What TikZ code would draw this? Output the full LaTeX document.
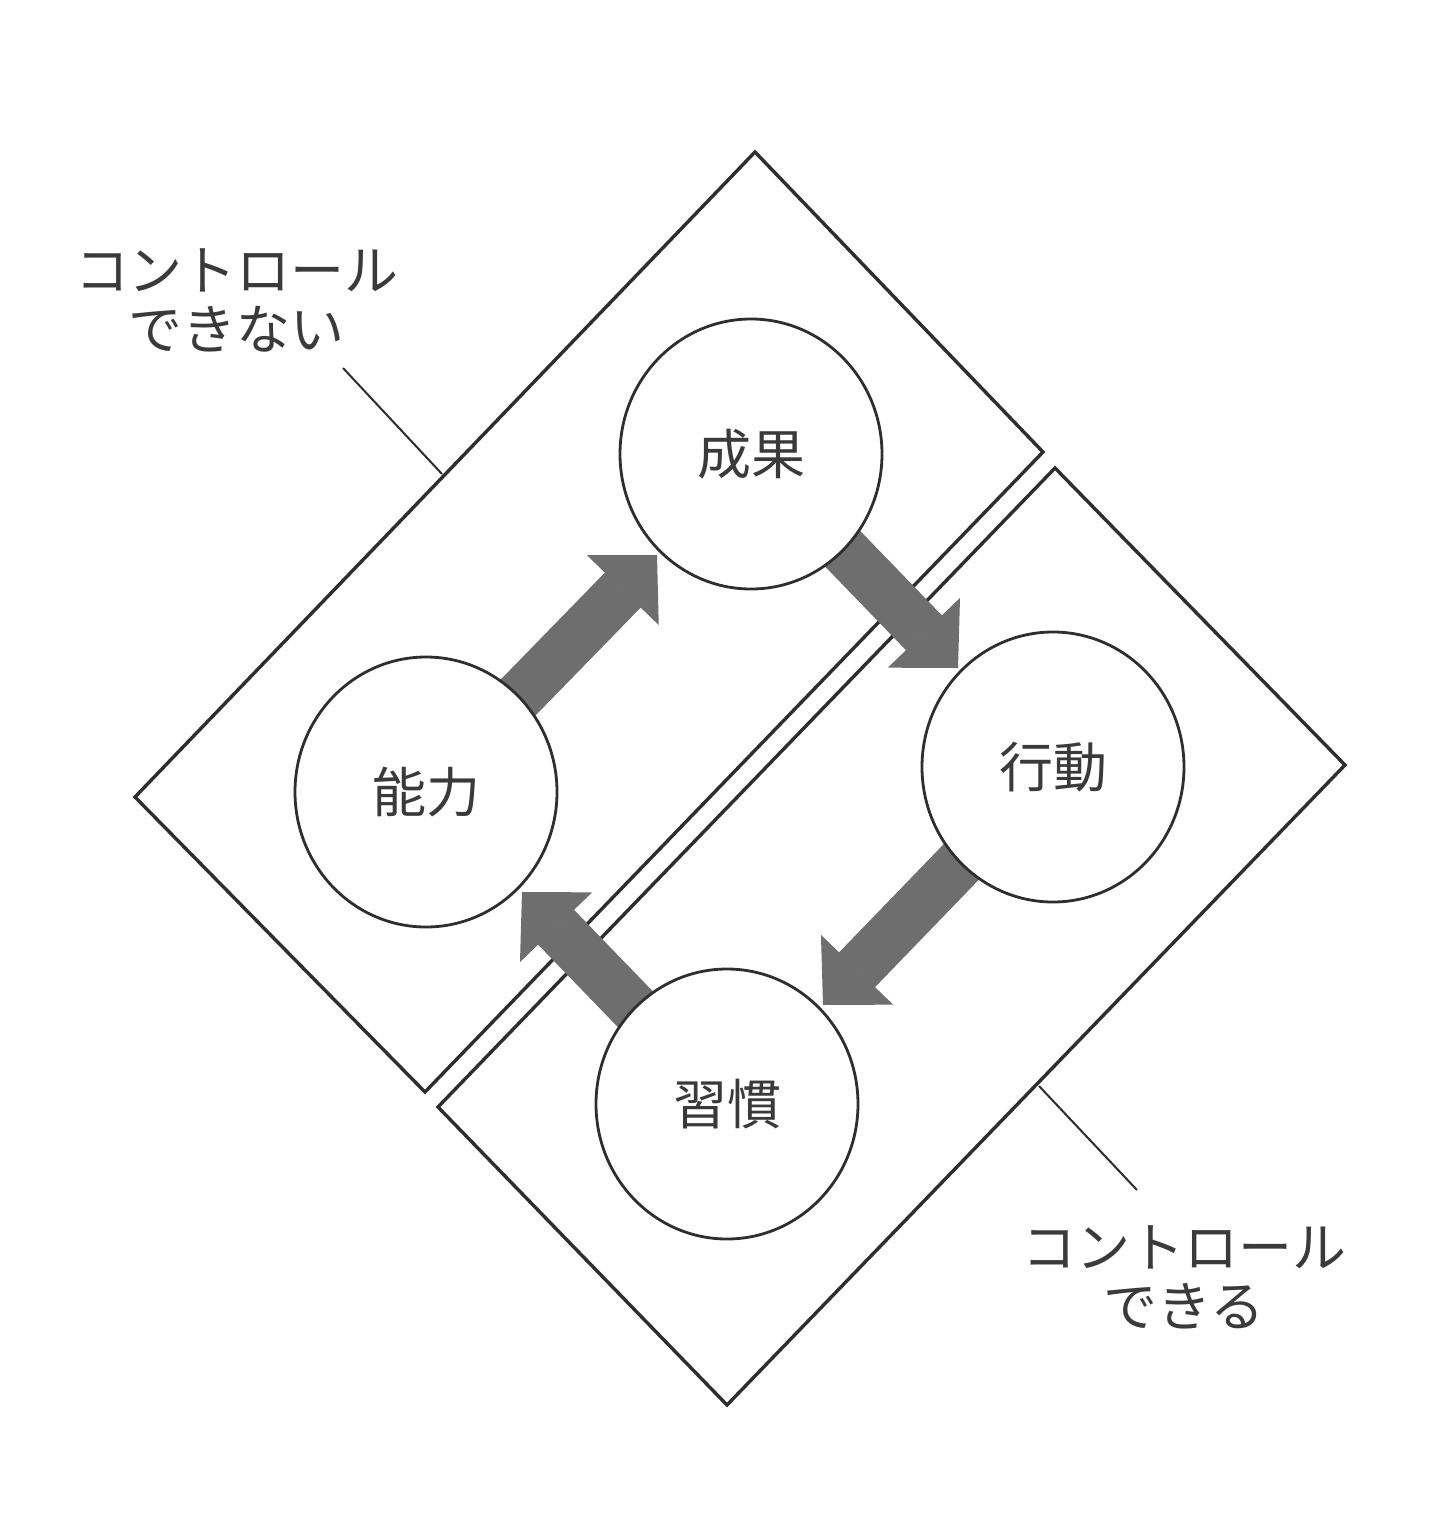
\documentclass[tikz,border=0pt]{standalone}
\usepackage{fontspec}
\newfontfamily\jp{Noto Sans CJK JP}
\usetikzlibrary{shapes.geometric,arrows.meta}
\definecolor{ink}{HTML}{2E2E2E}
\definecolor{arrowgray}{HTML}{6E6E6E}
\definecolor{txt}{HTML}{3A3A3A}
\pgfdeclarelayer{bg}
\pgfdeclarelayer{mid}
\pgfsetlayers{bg,mid,main}
\begin{document}
\begin{tikzpicture}[x=0.5pt,y=-0.5pt,
  zone/.style={draw=ink,line width=1.7pt,line join=miter},
  ring/.style={ellipse,draw=ink,line width=1.4pt,fill=white,minimum width=131pt,minimum height=135pt,inner sep=0pt,text=txt,font=\jp\fontsize{27}{30}\selectfont},
  flow/.style={draw=arrowgray,line width=25pt,-{Triangle[length=24.5pt,width=50pt,line width=1pt]}},
  leader/.style={draw=ink,line width=1pt},
  caption/.style={text=txt,font=\jp\fontsize{27}{29.5}\selectfont,align=center,inner sep=0pt}]
\useasboundingbox (0,0) rectangle (1440,1516);
\begin{pgfonlayer}{bg}
  \fill[white] (0,0) rectangle (1440,1516);
  \draw[zone] (755,152) -- (1043,452) -- (425,1092) -- (135,797) -- cycle;
  \draw[zone] (1055,468) -- (1345,765) -- (727,1405) -- (438,1107) -- cycle;
\end{pgfonlayer}

\node[ring] (seika) at (751,454) {成果};
\node[ring] (nouryoku) at (426,792) {能力};
\node[ring] (koudou) at (1053,767) {行動};
\node[ring] (shuukan) at (727,1104) {習慣};

\coordinate (t1) at (657,555);
\coordinate (t2) at (958,668);
\coordinate (t3) at (823,1005);
\coordinate (t4) at (522,892);

\begin{pgfonlayer}{mid}
  \draw[flow] (nouryoku.center) -- (t1);
  \draw[flow] (seika.center) -- (t2);
  \draw[flow] (koudou.center) -- (t3);
  \draw[flow] (shuukan.center) -- (t4);
\end{pgfonlayer}

\node[caption] (ctl1) at (237,300) {コントロール\\できない};
\node[caption] (ctl2) at (1184,1277) {コントロール\\できる};

\coordinate (l1a) at (343,368);
\coordinate (l1b) at (442,474);
\coordinate (l2a) at (1039,1086);
\coordinate (l2b) at (1137,1190);
\draw[leader] (l1a) -- (l1b);
\draw[leader] (l2a) -- (l2b);
\end{tikzpicture}
\end{document}
